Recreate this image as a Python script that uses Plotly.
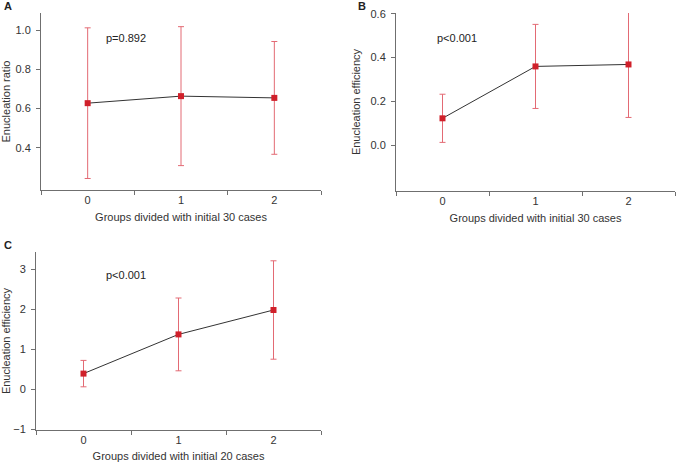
import plotly.graph_objects as go

W, H = 677, 462

groups = ["0", "1", "2"]

a_mean = [0.628, 0.664, 0.655]
a_err = [0.386, 0.356, 0.289]

b_mean = [0.122, 0.359, 0.368]
b_err = [0.110, 0.192, 0.242]

c_mean = [0.39, 1.37, 1.98]
c_err = [0.33, 0.91, 1.23]

a_ticks = [0.4, 0.6, 0.8, 1.0]
b_ticks = [0.0, 0.2, 0.4, 0.6]
c_ticks = [-1, 0, 1, 2, 3]

LINE = "#333333"
MARK = "#d0202a"
ERR = "#e36a74"
AXIS = "#6f6f6f"
FONT = "Liberation Sans, Arial, sans-serif"

fig = go.Figure()


def add_panel(mean, err, xa, ya):
    fig.add_trace(go.Scatter(
        x=groups, y=mean, xaxis=xa, yaxis=ya, mode="lines+markers",
        line=dict(color=LINE, width=1),
        marker=dict(symbol="square", size=6, color=MARK),
        error_y=dict(type="data", array=err, visible=True, color=ERR,
                     thickness=1, width=3),
        showlegend=False, cliponaxis=False,
    ))


add_panel(a_mean, a_err, "x", "y")
add_panel(b_mean, b_err, "x2", "y2")
add_panel(c_mean, c_err, "x3", "y3")


def px(x0, x1):
    return [x0 / W, x1 / W]


def py(top, bottom):
    return [1 - bottom / H, 1 - top / H]


def xaxis(dom, anchor, title):
    return dict(
        domain=dom, anchor=anchor, type="category", range=[-0.5, 2.5],
        tickson="boundaries", ticks="outside", ticklen=4, tickcolor=AXIS,
        automargin=False,
        showline=True, linecolor=AXIS, linewidth=1, showgrid=False,
        zeroline=False, tickfont=dict(size=11, color="#333"),
        title=dict(text=title, font=dict(size=11, color="#333"), standoff=8),
    )


def yaxis(dom, anchor, rng, ticks, title, fmt):
    return dict(
        domain=dom, anchor=anchor, range=rng, tickvals=ticks,
        tickformat=fmt, ticks="outside", ticklen=4, tickcolor=AXIS,
        ticklabelstandoff=3, automargin=False,
        showline=True, linecolor=AXIS, linewidth=1, showgrid=False,
        zeroline=False, tickfont=dict(size=11, color="#333"),
        title=dict(text=title, font=dict(size=11, color="#333"), standoff=7),
    )


fig.update_layout(
    width=W, height=H,
    margin=dict(l=0, r=0, t=0, b=0),
    paper_bgcolor="white", plot_bgcolor="white",
    font=dict(family=FONT, size=11, color="#333"),
    xaxis=xaxis(px(41, 321), "y", "Groups divided with initial 30 cases"),
    yaxis=yaxis(py(13, 190), "x", [0.183, 1.09], a_ticks, "Enucleation ratio", ".1f"),
    xaxis2=xaxis(px(396, 675), "y2", "Groups divided with initial 30 cases"),
    yaxis2=yaxis(py(13, 191), "x2", [-0.21, 0.603], b_ticks, "Enucleation efficiency", ".1f"),
    xaxis3=xaxis(px(36, 321), "y3", "Groups divided with initial 20 cases"),
    yaxis3=yaxis(py(252, 430), "x3", [-1.02, 3.43], c_ticks, "Enucleation efficiency", "d"),
)

annots = [
    ("p=0.892", 104, 38),
    ("p<0.001", 435, 38),
    ("p<0.001", 104, 275),
]
for txt, x, y in annots:
    fig.add_annotation(text=txt, x=x / W, y=1 - y / H, xref="paper", yref="paper",
                       xanchor="left", yanchor="middle", showarrow=False,
                       font=dict(size=11, color="#222"))

for lab, x, y in [("A", 2, 6), ("B", 356, 6), ("C", 2, 245)]:
    fig.add_annotation(text="<b>" + lab + "</b>", x=x / W, y=1 - y / H,
                       xref="paper", yref="paper", xanchor="left", yanchor="middle",
                       showarrow=False, font=dict(size=11, color="#222"))

fig.write_html(
    "out.html",
    config={"displayModeBar": False},
    post_script="document.body.style.margin='0';document.body.style.overflow='hidden';",
)
